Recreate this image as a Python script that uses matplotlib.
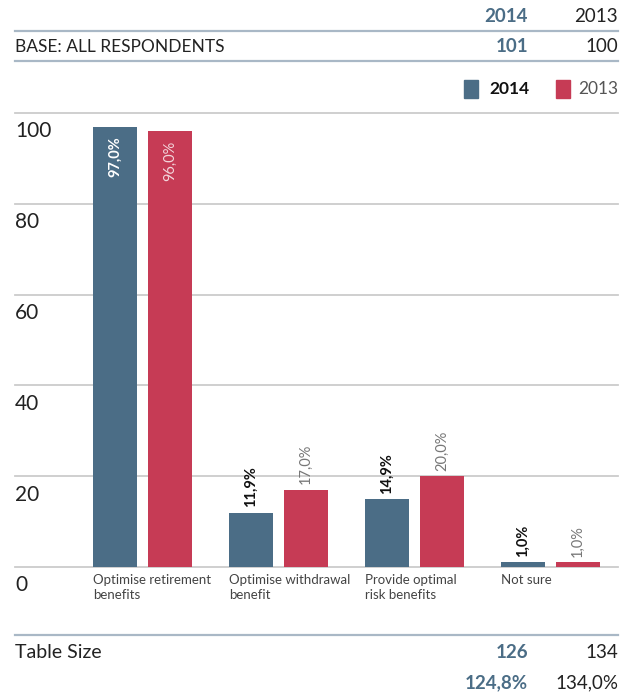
import matplotlib.pyplot as plt
from matplotlib.transforms import offset_copy

plt.rcParams['font.family'] = ['Lato', 'DejaVu Sans']

categories = ['Optimise retirement\nbenefits', 'Optimise withdrawal\nbenefit',
              'Provide optimal\nrisk benefits', 'Not sure']
values_2014 = [97.0, 11.9, 14.9, 1.0]
values_2013 = [96.0, 17.0, 20.0, 1.0]
labels_2014 = ['97,0%', '11,9%', '14,9%', '1,0%']
labels_2013 = ['96,0%', '17,0%', '20,0%', '1,0%']
yticks = [0, 20, 40, 60, 80, 100]

years = ['2014', '2013']
base = ['101', '100']
table_size = ['126', '134']
table_pct = ['124,8%', '134,0%']

BLUE = '#4b6d86'
RED = '#c63b55'
GRID = '#cccccc'
RULE = '#a9b8c6'
TXT = '#222222'

W, H = 632, 695
fig = plt.figure(figsize=(W / 100, H / 100), dpi=100)

def fx(px):
    return px / W

def fy(py):
    return 1 - py / H

ax = fig.add_axes([fx(15), fy(567), fx(618) - fx(15), fy(113) - fy(567)])
ax.set_xlim(-0.9375, 3.496)
ax.set_ylim(0, 100)
for s in ax.spines.values():
    s.set_visible(False)
ax.set_xticks([])
ax.set_yticks([])
ax.patch.set_alpha(0)

for v in yticks:
    ax.axhline(v, color=GRID, lw=1.3, zorder=0, clip_on=False)
    tr = offset_copy(ax.get_yaxis_transform(), fig=fig, x=0, y=-6, units='points')
    ax.text(0.0, v, str(v), transform=tr, ha='left', va='top',
            fontsize=15, color=TXT)

bw = 44 / 136
off = 27.5 / 136
xs = list(range(len(categories)))
xb = [x - off for x in xs]
xr = [x + off for x in xs]
ax.bar(xb, values_2014, width=bw, color=BLUE, zorder=2)
ax.bar(xr, values_2013, width=bw, color=RED, zorder=2)

for i in xs:
    for x, v, lab, bold in [(xb[i], values_2014[i], labels_2014[i], True),
                            (xr[i], values_2013[i], labels_2013[i], False)]:
        w = 'bold' if bold else 'normal'
        if v > 50:
            tr = offset_copy(ax.transData, fig=fig, x=0, y=-7, units='points')
            col = 'white' if bold else '#f3d6dc'
            ax.text(x, v, lab, transform=tr, rotation=90, ha='center', va='top',
                    fontsize=10.5, color=col, fontweight=w)
        else:
            tr = offset_copy(ax.transData, fig=fig, x=0, y=4, units='points')
            col = '#111111' if bold else '#777777'
            ax.text(x, v, lab, transform=tr, rotation=90, ha='center', va='bottom',
                    fontsize=10.5, color=col, fontweight=w)
    tr = offset_copy(ax.transData, fig=fig, x=0, y=-5, units='points')
    ax.text(xb[i] - bw / 2, 0, categories[i], transform=tr, ha='left', va='top',
            fontsize=9.5, color='#444444', linespacing=1.3)

# header table
col_x = [fx(528), fx(618)]
rows = [(17, years), (47, base), (653, table_size), (683, table_pct)]
for py, vals in rows:
    for j in range(2):
        fig.text(col_x[j], fy(py), vals[j], ha='right', va='center', fontsize=13.5,
                 color=BLUE if j == 0 else TXT,
                 fontweight='bold' if j == 0 else 'normal')

fig.text(fx(15), fy(47), 'BASE: ALL RESPONDENTS', ha='left', va='center',
         fontsize=12.5, color=TXT)
fig.text(fx(15), fy(653), 'Table Size', ha='left', va='center',
         fontsize=14, color=TXT)

for py in [31, 61, 635]:
    fig.add_artist(plt.Line2D([fx(15), fx(618)], [fy(py), fy(py)], color=RULE, lw=1.6))

# legend
fig.add_artist(plt.Rectangle((fx(464), fy(98)), fx(14), fy(80) - fy(98), color=BLUE))
fig.text(fx(489), fy(89), '2014', ha='left', va='center', fontsize=12.5,
         color='#111111', fontweight='bold')
fig.add_artist(plt.Rectangle((fx(556), fy(98)), fx(14), fy(80) - fy(98), color=RED))
fig.text(fx(618), fy(89), '2013', ha='right', va='center', fontsize=12.5,
         color='#555555')

fig.savefig('out.png', dpi=100)
